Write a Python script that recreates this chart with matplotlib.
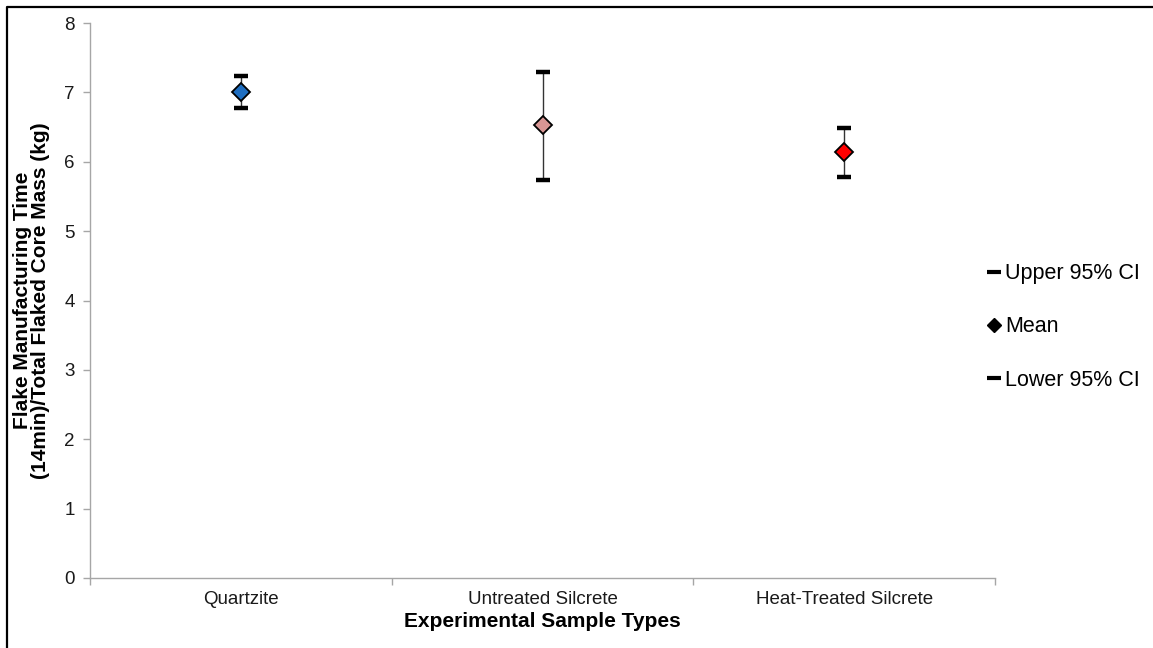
import matplotlib
matplotlib.use("Agg")
import matplotlib.pyplot as plt
from matplotlib.lines import Line2D

plt.rcParams['font.family'] = ['Liberation Sans', 'DejaVu Sans']

# Data
categories = ["Quartzite", "Untreated Silcrete", "Heat-Treated Silcrete"]
mean_vals = [7.01, 6.53, 6.14]
upper_ci = [7.23, 7.30, 6.49]
lower_ci = [6.77, 5.74, 5.78]
point_colors = ["#1F6EC0", "#D99694", "#FF0000"]
y_ticks = [0, 1, 2, 3, 4, 5, 6, 7, 8]

W, H = 1153, 648
fig = plt.figure(figsize=(W / 100, H / 100), dpi=100)
ax = fig.add_axes([90 / W, (H - 578) / H, (995 - 90) / W, (578 - 23) / H])

x = list(range(len(categories)))
gray = "#A6A6A6"

# High-low lines
ax.vlines(x, lower_ci, upper_ci, color="#333333", linewidth=1.0, zorder=2)
# Caps
ax.plot(x, upper_ci, linestyle="none", marker="_", markersize=10,
        markeredgewidth=3.2, color="black", zorder=3)
ax.plot(x, lower_ci, linestyle="none", marker="_", markersize=10,
        markeredgewidth=3.2, color="black", zorder=3)
# Means
for xi, m, c in zip(x, mean_vals, point_colors):
    ax.plot([xi], [m], linestyle="none", marker="D", markersize=9,
            markerfacecolor=c, markeredgecolor="black", markeredgewidth=1.3,
            zorder=4)

ax.set_xlim(-0.5, len(categories) - 0.5)
ax.set_ylim(0, 8)
ax.set_yticks(y_ticks)
ax.set_yticklabels([str(t) for t in y_ticks])
ax.set_xticks(x)
ax.set_xticklabels(categories)
ax.set_xticks([i + 0.5 for i in range(-1, len(categories))], minor=True)

for side in ("top", "right"):
    ax.spines[side].set_visible(False)
for side in ("left", "bottom"):
    ax.spines[side].set_color(gray)
    ax.spines[side].set_linewidth(1.0)

ax.tick_params(axis="y", which="major", length=5, color=gray, width=1.0,
               labelsize=13.5, labelcolor="#1a1a1a", pad=6)
ax.tick_params(axis="x", which="major", length=0, labelsize=13.5,
               labelcolor="#1a1a1a", pad=9)
ax.tick_params(axis="x", which="minor", length=5, color=gray, width=1.0)

ax.set_xlabel("Experimental Sample Types", fontsize=15, fontweight="bold",
              labelpad=3)
ax.set_ylabel("Flake Manufacturing Time\n(14min)/Total Flaked Core Mass (kg)",
              fontsize=15, fontweight="bold", labelpad=10, linespacing=0.95)

# Legend
handles = [
    Line2D([], [], linestyle="none", marker="_", markersize=9.5,
           markeredgewidth=3, color="black"),
    Line2D([], [], linestyle="none", marker="D", markersize=7,
           color="black"),
    Line2D([], [], linestyle="none", marker="_", markersize=9.5,
           markeredgewidth=3, color="black"),
]
labels = ["Upper 95% CI", "Mean", "Lower 95% CI"]
fig.legend(handles, labels, loc="center left",
           bbox_to_anchor=(987 / W, (H - 327) / H), frameon=False,
           fontsize=15.5, handlelength=0.65, handletextpad=0.2,
           labelspacing=1.5, borderaxespad=0, borderpad=0)

# Outer frame (left and top edges)
fig.add_artist(Line2D([6.5 / W, 6.5 / W, 1.0], [0.0, (H - 7) / H, (H - 7) / H],
                      transform=fig.transFigure, color="black", linewidth=1.6))

fig.savefig("out.png", dpi=100, facecolor="white")
